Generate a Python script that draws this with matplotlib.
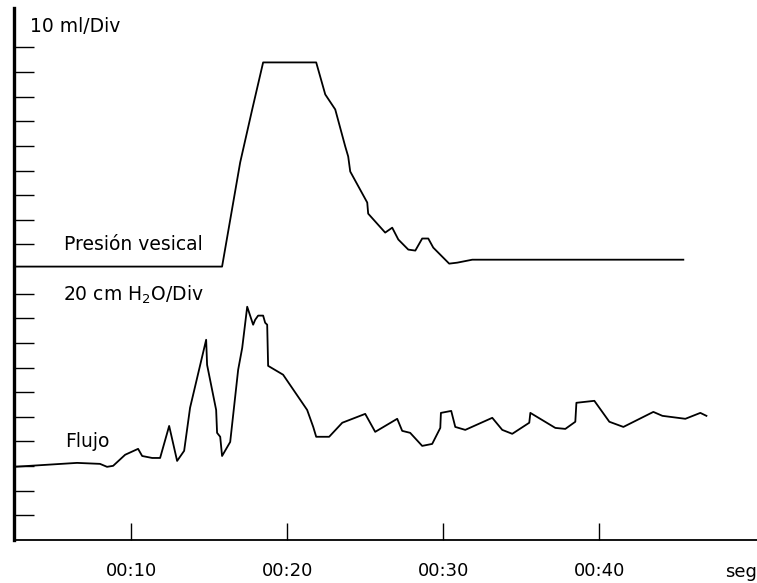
import matplotlib
matplotlib.use("Agg")
import matplotlib.pyplot as plt

# time in seconds, value in divisions of the paper trace
pres_t = [2.5, 15.83, 16.99, 17.76, 18.46, 21.86, 22.44, 23.08, 23.72, 23.91,
          24.04, 25.13, 25.19, 26.28, 26.73, 27.12, 27.76, 28.21, 28.65, 29.04,
          29.36, 30.38, 30.90, 31.86, 45.38]
pres_d = [11.1, 11.1, 15.33, 17.48, 19.39, 19.39, 18.09, 17.48, 15.98, 15.57,
          14.96, 13.70, 13.25, 12.48, 12.68, 12.20, 11.79, 11.75, 12.24, 12.24,
          11.87, 11.22, 11.26, 11.38, 11.38]

flujo_t = [2.5, 6.54, 8.01, 8.46, 8.85, 9.62, 10.45, 10.71, 11.35, 11.86,
           12.44, 12.95, 13.40, 13.78, 14.81, 14.87, 15.45, 15.51, 15.71, 15.83,
           16.35, 16.86, 17.12, 17.44, 17.82, 17.95, 18.14, 18.46, 18.59, 18.72,
           18.78, 19.74, 21.28, 21.67, 21.86, 22.69, 23.53, 25.00, 25.64, 27.05,
           27.37, 27.88, 28.65, 29.29, 29.81, 29.85, 30.51, 30.77, 31.41, 33.14,
           33.78, 34.42, 35.51, 35.58, 37.18, 37.82, 38.46, 38.53, 39.68, 40.64,
           41.54, 43.46, 44.04, 45.51, 46.47, 46.86]
flujo_d = [2.97, 3.13, 3.09, 2.97, 3.01, 3.46, 3.70, 3.41, 3.33, 3.33,
           4.63, 3.21, 3.62, 5.37, 8.13, 7.11, 5.28, 4.35, 4.19, 3.41,
           3.98, 6.91, 7.80, 9.47, 8.74, 8.94, 9.11, 9.11, 8.82, 8.74,
           7.07, 6.71, 5.28, 4.59, 4.19, 4.19, 4.76, 5.12, 4.39, 4.92,
           4.43, 4.35, 3.82, 3.90, 4.55, 5.16, 5.24, 4.59, 4.47, 4.96,
           4.47, 4.31, 4.76, 5.16, 4.55, 4.51, 4.80, 5.57, 5.65, 4.80,
           4.59, 5.20, 5.04, 4.92, 5.16, 5.04]

x_ticks = [10, 20, 30, 40]
x_labels = ["00:10", "00:20", "00:30", "00:40"]
y_ticks = [1, 2, 3, 4, 5, 6, 7, 8, 9, 10, 12, 13, 14, 15, 16, 17, 18, 19, 20]

fig = plt.figure(figsize=(7.57, 5.83), dpi=100)
ax = fig.add_axes([0.0185, 0.0738, 0.9815, 0.9125])

ax.plot(pres_t, pres_d, color="black", lw=1.3)
ax.plot(flujo_t, flujo_d, color="black", lw=1.3)

ax.set_xlim(2.5, 50.1)
ax.set_ylim(0, 21.6)

ax.spines["top"].set_visible(False)
ax.spines["right"].set_visible(False)
ax.spines["left"].set_linewidth(2.4)
ax.spines["bottom"].set_linewidth(1.3)

ax.set_yticks(y_ticks)
ax.set_yticklabels([])
ax.tick_params(axis="y", direction="in", length=14.5, width=1.0)
ax.set_xticks(x_ticks)
ax.set_xticklabels(x_labels)
ax.tick_params(axis="x", direction="in", length=12, width=1.0, pad=16,
               labelsize=13)

fs = 13.5
ax.text(3.53, 20.85, "10 ml/Div", fontsize=fs, va="center", ha="left")
ax.text(5.71, 11.99, "Presión vesical", fontsize=fs, va="center", ha="left")
ax.text(5.64, 9.96, "20 cm H$_2$O/Div", fontsize=fs, va="center", ha="left")
ax.text(5.77, 3.98, "Flujo", fontsize=fs, va="center", ha="left")
ax.text(49.1, -1.3, "seg", fontsize=13, va="center", ha="center",
        clip_on=False)

fig.savefig("out.png", dpi=100)
